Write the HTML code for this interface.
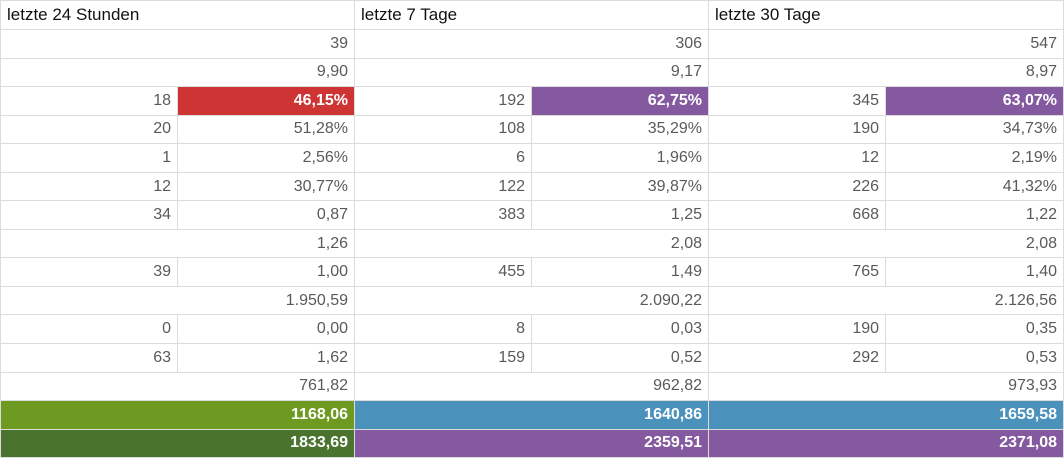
<!DOCTYPE html>
<html><head><meta charset="utf-8"><style>
html,body{margin:0;padding:0;background:#fff;}
table{border-collapse:collapse;table-layout:fixed;width:1063px;font-family:"Liberation Sans",sans-serif;font-size:16px;color:#5a5a5a;}
td{border:1px solid #dcdcdc;height:27.5px;padding:0 6px;text-align:right;white-space:nowrap;overflow:hidden;box-sizing:border-box;}
tr{height:28.56px;}
th{border:1px solid #dcdcdc;text-align:left;font-weight:normal;color:#111;padding:0 6px;height:28px;font-size:17px;}
.b{color:#fff;font-weight:bold;}
.red{background:#cf3434;}.pur{background:#8459a0;}.grn{background:#6e9a22;}.blu{background:#4a92bb;}.dgr{background:#4a742d;}
</style></head><body>
<table>
<colgroup><col style="width:177px"><col style="width:177px"><col style="width:177px"><col style="width:177px"><col style="width:177px"><col style="width:178px"></colgroup>
<tr><th colspan="2">letzte 24 Stunden</th><th colspan="2">letzte 7 Tage</th><th colspan="2">letzte 30 Tage</th></tr>
<tr><td colspan="2">39</td><td colspan="2">306</td><td colspan="2">547</td></tr>
<tr><td colspan="2">9,90</td><td colspan="2">9,17</td><td colspan="2">8,97</td></tr>
<tr><td>18</td><td class="b red">46,15%</td><td>192</td><td class="b pur">62,75%</td><td>345</td><td class="b pur">63,07%</td></tr>
<tr><td>20</td><td>51,28%</td><td>108</td><td>35,29%</td><td>190</td><td>34,73%</td></tr>
<tr><td>1</td><td>2,56%</td><td>6</td><td>1,96%</td><td>12</td><td>2,19%</td></tr>
<tr><td>12</td><td>30,77%</td><td>122</td><td>39,87%</td><td>226</td><td>41,32%</td></tr>
<tr><td>34</td><td>0,87</td><td>383</td><td>1,25</td><td>668</td><td>1,22</td></tr>
<tr><td colspan="2">1,26</td><td colspan="2">2,08</td><td colspan="2">2,08</td></tr>
<tr><td>39</td><td>1,00</td><td>455</td><td>1,49</td><td>765</td><td>1,40</td></tr>
<tr><td colspan="2">1.950,59</td><td colspan="2">2.090,22</td><td colspan="2">2.126,56</td></tr>
<tr><td>0</td><td>0,00</td><td>8</td><td>0,03</td><td>190</td><td>0,35</td></tr>
<tr><td>63</td><td>1,62</td><td>159</td><td>0,52</td><td>292</td><td>0,53</td></tr>
<tr><td colspan="2">761,82</td><td colspan="2">962,82</td><td colspan="2">973,93</td></tr>
<tr><td colspan="2" class="b grn">1168,06</td><td colspan="2" class="b blu">1640,86</td><td colspan="2" class="b blu">1659,58</td></tr>
<tr><td colspan="2" class="b dgr">1833,69</td><td colspan="2" class="b pur">2359,51</td><td colspan="2" class="b pur">2371,08</td></tr>
</table>
</body></html>
